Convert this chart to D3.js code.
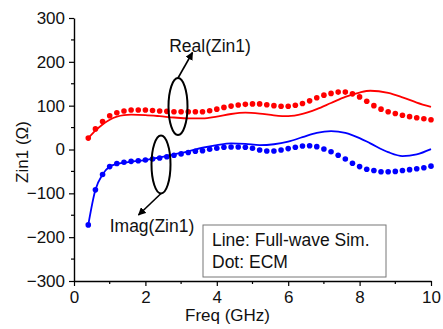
<!DOCTYPE html>
<html>
<head>
<meta charset="utf-8">
<script src="https://cdn.jsdelivr.net/npm/d3@7"></script>
<style>
  body { margin: 0; background: #fff; }
  svg text { font-family: Arial, "Liberation Sans", sans-serif; fill: #111; }
</style>
</head>
<body>
<div id="chart"></div>
<script>
// Dots (ECM), every 0.2 GHz from 0.4 to 10
var dotFreq = d3.range(0.4, 10.01, 0.2).map(function(f) { return Math.round(f * 10) / 10; });
var realDots = [26, 47, 64, 77, 84, 88, 90, 90, 90, 89, 88, 87, 86, 86, 86, 86, 86, 88.5,
  92, 96, 99, 101.5, 103, 104, 104, 102, 100, 98.5, 98.5, 101, 105, 111, 118, 124, 128,
  131, 131, 127, 120, 110, 100, 92, 86, 82, 78, 75, 72.5, 70, 68];
var imagDots = [-172, -92, -57, -39, -32, -29, -27, -25.5, -24, -21.7, -19.4, -16.4, -13, -10,
  -7, -4, -2.7, 0.4, 2.7, 5, 5.7, 5.7, 5, 2.7, -1, -3.4, -3.4, -1, 2, 5, 8, 8.7, 6.5,
  1, -5, -13, -21.7, -31.5, -39, -45, -48, -50.6, -50.6, -50, -48, -46, -44, -41.5, -38];

// Lines (Full-wave Sim.)
var lineFreq = [0.4, 0.6, 0.8, 1.0, 1.2, 1.4, 1.6, 2.0, 2.4, 2.8, 3.2, 3.6, 4.0, 4.4, 4.8, 5.2,
  5.6, 6.0, 6.4, 6.8, 7.2, 7.6, 8.0, 8.3, 8.8, 9.2, 9.6, 10.0];
var realLine = [26, 43, 57, 68, 75, 78.5, 79.5, 78.5, 76, 73, 71, 71, 75, 81, 84, 82,
  78, 76, 81, 92, 106, 120, 130, 134, 129, 119, 107, 97];
var imagLine = [-172, -92, -57, -39, -33, -30, -28, -24, -18, -11, -4, 4, 10, 14, 13, 10,
  12, 18, 28, 38, 42, 38, 26, 14, -6, -15, -11, 1];

var xTicks = [0, 2, 4, 6, 8, 10];
var yTicks = [-300, -200, -100, 0, 100, 200, 300];
var xMinor = [1, 3, 5, 7, 9];
var yMinor = [-250, -150, -50, 50, 150, 250];

var outerWidth = 443;
var outerHeight = 329;
var marginLeft = 74;
var marginTop = 18;
var innerWidth = 357;
var innerHeight = 263;

var svg = d3.select("#chart").append("svg")
  .attr("width", outerWidth)
  .attr("height", outerHeight);

var g = svg.append("g").attr("transform", "translate(" + marginLeft + "," + marginTop + ")");

var x = d3.scaleLinear().domain([0, 10]).range([0, innerWidth]);
var y = d3.scaleLinear().domain([-300, 300]).range([innerHeight, 0]);

// minor ticks (no labels)
g.selectAll(".xminor").data(xMinor).enter().append("line")
  .attr("x1", function(d) { return x(d); }).attr("x2", function(d) { return x(d); })
  .attr("y1", innerHeight).attr("y2", innerHeight + 3)
  .attr("stroke", "#000").attr("stroke-width", 1.2);
g.selectAll(".yminor").data(yMinor).enter().append("line")
  .attr("y1", function(d) { return y(d); }).attr("y2", function(d) { return y(d); })
  .attr("x1", 0).attr("x2", -3)
  .attr("stroke", "#000").attr("stroke-width", 1.2);

// major axes
var xAxisG = g.append("g").attr("transform", "translate(0," + innerHeight + ")")
  .call(d3.axisBottom(x).tickValues(xTicks).tickSize(5).tickSizeOuter(0).tickPadding(5));
var yAxisG = g.append("g")
  .call(d3.axisLeft(y).tickValues(yTicks).tickSize(5).tickSizeOuter(0).tickPadding(4));

g.selectAll(".tick line").attr("stroke", "#000").attr("stroke-width", 1.2);
g.selectAll(".domain").attr("stroke", "#000").attr("stroke-width", 1.4);
g.selectAll(".tick text").style("font-size", "17px").attr("fill", "#111");

// axis titles
svg.append("text")
  .attr("x", marginLeft + innerWidth / 2 - 25)
  .attr("y", 321)
  .attr("text-anchor", "middle")
  .style("font-size", "17px")
  .text("Freq (GHz)");
svg.append("text")
  .attr("transform", "translate(28," + 152 + ") rotate(-90)")
  .attr("text-anchor", "middle")
  .style("font-size", "17px")
  .text("Zin1 (Ω)");

// lines
var line = d3.line()
  .x(function(d) { return x(d[0]); })
  .y(function(d) { return y(d[1]); })
  .curve(d3.curveMonotoneX);

var series = [
  { color: "#ff0000", lf: realLine, dots: realDots },
  { color: "#0000ff", lf: imagLine, dots: imagDots }
];

series.forEach(function(s) {
  var pts = lineFreq.map(function(f, i) { return [f, s.lf[i]]; });
  g.append("path")
    .attr("d", line(pts))
    .attr("fill", "none")
    .attr("stroke", s.color)
    .attr("stroke-width", 1.8);
  g.selectAll(null).data(dotFreq.map(function(f, i) { return [f, s.dots[i]]; }))
    .enter().append("circle")
    .attr("cx", function(d) { return x(d[0]); })
    .attr("cy", function(d) { return y(d[1]); })
    .attr("r", 2.8)
    .attr("fill", s.color);
});

// annotations
svg.append("defs").append("marker")
  .attr("id", "arrow")
  .attr("viewBox", "0 0 10 10")
  .attr("refX", 9).attr("refY", 5)
  .attr("markerWidth", 5).attr("markerHeight", 5)
  .attr("markerUnits", "strokeWidth")
  .attr("orient", "auto")
  .append("path").attr("d", "M0,0 L10,5 L0,10 z").attr("fill", "#000");

var anno = [
  { cx: 178, cy: 106.5, rx: 9.5, ry: 28.5, x1: 178, y1: 78, x2: 192.5, y2: 52.5, label: "Real(Zin1)", tx: 210, ty: 52 },
  { cx: 161, cy: 164.5, rx: 9.5, ry: 29, x1: 161, y1: 193.5, x2: 138.5, y2: 215, label: "Imag(Zin1)", tx: 152, ty: 232 }
];
anno.forEach(function(a) {
  svg.append("ellipse")
    .attr("cx", a.cx).attr("cy", a.cy).attr("rx", a.rx).attr("ry", a.ry)
    .attr("fill", "none").attr("stroke", "#000").attr("stroke-width", 2);
  svg.append("line")
    .attr("x1", a.x1).attr("y1", a.y1).attr("x2", a.x2).attr("y2", a.y2)
    .attr("stroke", "#000").attr("stroke-width", 1.6)
    .attr("marker-end", "url(#arrow)");
  svg.append("text")
    .attr("x", a.tx).attr("y", a.ty)
    .attr("text-anchor", "middle")
    .style("font-size", "17.5px")
    .text(a.label);
});

// legend box
svg.append("rect")
  .attr("x", 203).attr("y", 225).attr("width", 183).attr("height", 52)
  .attr("fill", "#fff").attr("stroke", "#777").attr("stroke-width", 1);
svg.append("text").attr("x", 212).attr("y", 246).style("font-size", "17.5px").text("Line: Full-wave Sim.");
svg.append("text").attr("x", 212).attr("y", 268).style("font-size", "17.5px").text("Dot: ECM");
</script>
</body>
</html>
